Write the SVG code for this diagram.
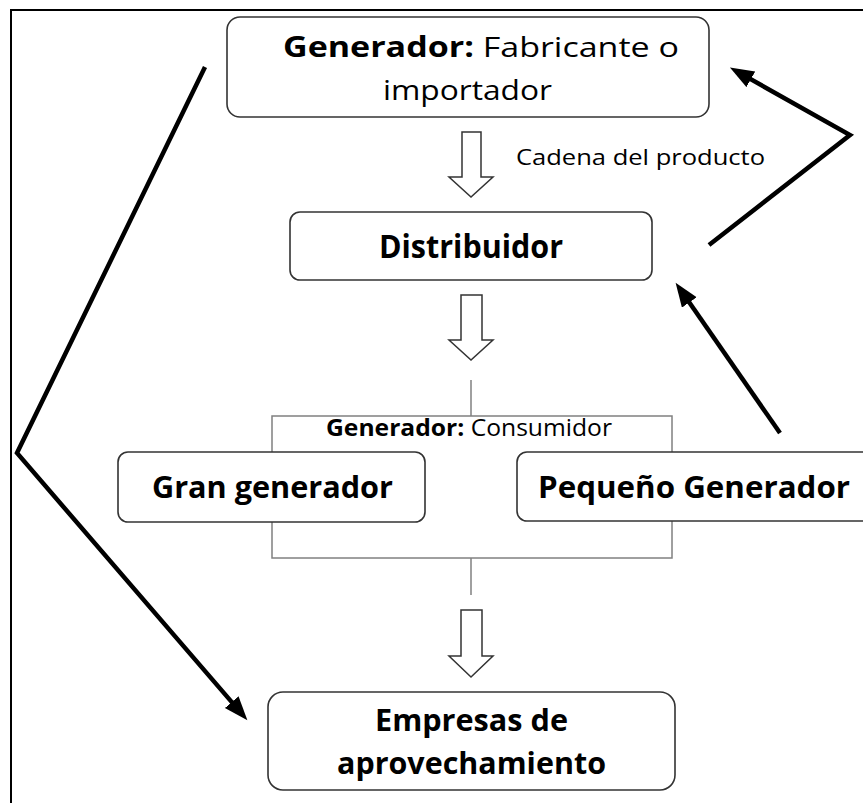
<svg xmlns="http://www.w3.org/2000/svg" width="863" height="803" viewBox="0 0 863 803">
<style>
.box{fill:#fff;stroke:#333;stroke-width:1.6}
.blk{fill:#fff;stroke:#333;stroke-width:1.5;stroke-linejoin:miter}
.thin{fill:none;stroke:#808080;stroke-width:1.5}
.conn{fill:none;stroke:#000;stroke-width:4.5;stroke-linejoin:miter;stroke-miterlimit:10}
.t{font-family:"Open Sans","Noto Sans",sans-serif;fill:#000}
.b{font-weight:bold}
</style>
<defs>
<marker id="ah" markerUnits="userSpaceOnUse" markerWidth="26" markerHeight="20" refX="13" refY="9" orient="auto">
<path d="M0,0 L24,9 L0,18 z" fill="#000"/>
</marker>
</defs>
<rect width="863" height="803" fill="#fff"/>
<g id="frame">
<path d="M11,803 L11,10 L863,10" fill="none" stroke="#000" stroke-width="2"/>
</g>
<g id="consumer-group">
<line class="thin" x1="471" y1="380" x2="471" y2="416"/>
<rect class="thin" x="272" y="416" width="400" height="142"/>
<line class="thin" x1="471" y1="558" x2="471" y2="595"/>
<text class="t" x="326" y="436" font-size="23" textLength="286" lengthAdjust="spacingAndGlyphs"><tspan class="b">Generador:</tspan> Consumidor</text>
</g>
<g id="generador">
<rect class="box" x="227" y="17" width="482" height="100" rx="13"/>
<text class="t" x="283" y="57" font-size="28" textLength="396" lengthAdjust="spacingAndGlyphs"><tspan class="b">Generador:</tspan> Fabricante o</text>
<text class="t" x="383" y="100" font-size="28" textLength="169" lengthAdjust="spacingAndGlyphs">importador</text>
</g>
<g id="distribuidor">
<rect class="box" x="290" y="212" width="362" height="68" rx="10"/>
<text class="t b" x="379" y="258" font-size="32" textLength="184" lengthAdjust="spacingAndGlyphs">Distribuidor</text>
</g>
<g id="gran-generador">
<rect class="box" x="118" y="452" width="307" height="70" rx="10"/>
<text class="t b" x="152" y="498" font-size="31" textLength="241" lengthAdjust="spacingAndGlyphs">Gran generador</text>
</g>
<g id="pequeno-generador">
<rect class="box" x="517" y="452" width="360" height="69" rx="10"/>
<text class="t b" x="538" y="498" font-size="31" textLength="312" lengthAdjust="spacingAndGlyphs">Pequeño Generador</text>
</g>
<g id="empresas">
<rect class="box" x="268" y="692" width="407" height="98" rx="15"/>
<text class="t b" x="375" y="731" font-size="30" textLength="193" lengthAdjust="spacingAndGlyphs">Empresas de</text>
<text class="t b" x="337" y="774" font-size="30" textLength="269" lengthAdjust="spacingAndGlyphs">aprovechamiento</text>
</g>
<g id="connectors">
<path class="blk" d="M462,132 L481,132 L481,177 L493,177 L471,197 L449,177 L462,177 Z"/>
<text class="t" x="516" y="165" font-size="22" textLength="249" lengthAdjust="spacingAndGlyphs">Cadena del producto</text>
<path class="blk" d="M461,295 L482,295 L482,340 L493,340 L471,360 L449,340 L461,340 Z"/>
<path class="blk" d="M461,610 L482,610 L482,656 L493,656 L471,677 L449,656 L461,656 Z"/>
<path class="conn" d="M205,67 L17,453 L240.2,711.9" marker-end="url(#ah)"/>
<path class="conn" d="M709,245 L850,135 L739.5,72.9" marker-end="url(#ah)"/>
<path class="conn" d="M780,433 L681.9,291.8" marker-end="url(#ah)"/>
</g>
</svg>
